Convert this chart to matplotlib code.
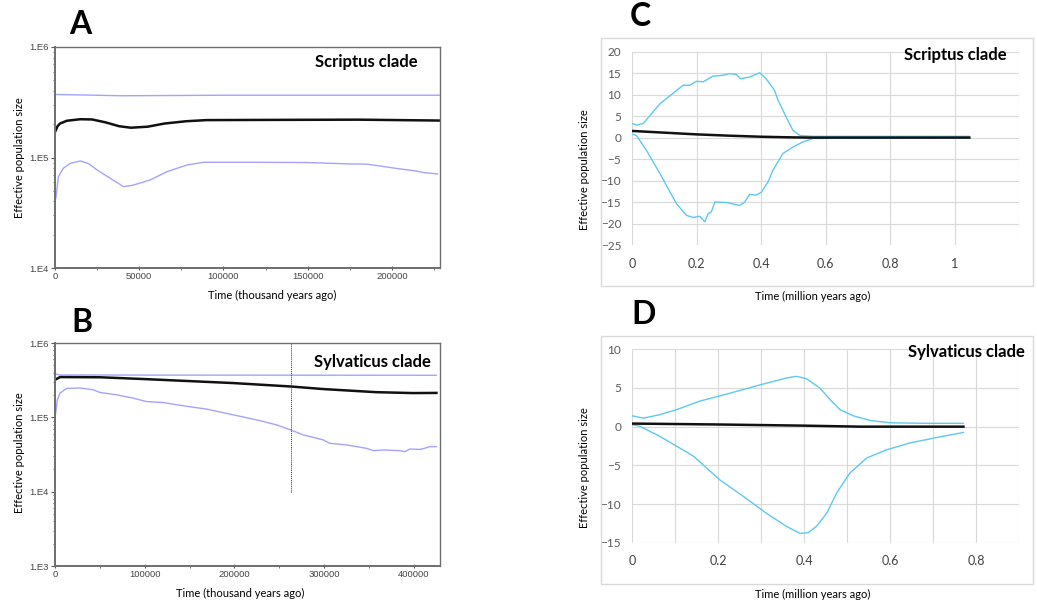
import numpy as np
import matplotlib
matplotlib.use("Agg")
import matplotlib.pyplot as plt
from matplotlib.patches import Rectangle
from matplotlib.ticker import FixedLocator, NullFormatter

# ---- panel A : Scriptus clade (BSP, log scale) ----
a_med_t = [0, 1500, 3000, 7000, 15000, 22000, 30000, 38000, 45000, 55000, 65000, 78000, 90000, 130000, 180000, 228000]
a_med_n = [170000, 192000, 203000, 215000, 222000, 221000, 208000, 192000, 186000, 190000, 203000, 213000, 218000, 219000, 220000, 216000]
a_hi_t = [0, 40000, 100000, 228000]
a_hi_n = [372000, 362000, 366000, 366000]
a_lo_t = [0, 600, 2000, 5000, 9000, 15000, 20000, 25000, 32000, 40700, 46000, 56500, 66500, 78400, 88300, 120000, 150000, 175600,
          185500, 195500, 205000, 213000, 219000, 227000]
a_lo_n = [40000, 44000, 67000, 80000, 88500, 93000, 88000, 77000, 66000, 54500, 56000, 62600, 74500, 85600, 90500, 90500, 90000,
          87400, 87000, 82600, 78700, 76000, 73000, 71000]

# ---- panel B : Sylvaticus clade ----
b_med_t = [0, 5600, 50000, 100000, 198700, 262600, 299000, 358000, 399000, 425000]
b_med_n = [320000, 348000, 346000, 327000, 289000, 260000, 240000, 218000, 212000, 213000]
b_hi_t = [0, 5000, 100000, 425000]
b_hi_n = [385000, 372000, 370000, 368000]
b_lo_t = [0, 2600, 5600, 13000, 27900, 42700, 50000, 68700, 87300, 102000, 120700, 143000, 169000, 198700, 228000, 247000,
          262600, 276700, 299000, 306000, 325000, 347000, 355000, 366000, 384000, 390000, 395500, 407000, 418000, 425000]
b_lo_n = [97000, 172000, 212000, 245000, 248000, 235000, 216000, 201000, 181000, 163000, 158000, 143000, 129000, 108000,
          90500, 79000, 67700, 58000, 49700, 44800, 42500, 38300, 35600, 36400, 35600, 34500, 37500, 37000, 40400, 40400]
b_split = 262600

# ---- panel C : Scriptus clade (EBSP) ----
c_med_t = [0, 0.1, 0.2, 0.3, 0.4, 0.5, 0.56, 1.045]
c_med_n = [1.55, 1.15, 0.75, 0.45, 0.2, 0.05, 0.0, 0.0]
c_hi_t = [0, 0.013, 0.034, 0.086, 0.158, 0.178, 0.199, 0.22, 0.25, 0.281, 0.302, 0.323, 0.335, 0.364, 0.395, 0.415, 0.441,
          0.452, 0.477, 0.498, 0.519, 0.56, 1.045]
c_hi_n = [3.3, 2.9, 3.3, 7.9, 12.2, 12.2, 13.1, 13.0, 14.3, 14.5, 14.9, 14.7, 13.7, 14.1, 15.1, 13.7, 11.0, 8.7, 4.8, 1.7,
          0.5, 0.3, 0.3]
c_lo_t = [0, 0.013, 0.044, 0.086, 0.137, 0.168, 0.189, 0.209, 0.225, 0.235, 0.245, 0.256, 0.292, 0.333, 0.348, 0.364, 0.385,
          0.4, 0.421, 0.436, 0.467, 0.498, 0.529, 0.56, 1.045]
c_lo_n = [0.8, 0.5, -3.0, -8.4, -15.4, -18.1, -18.6, -18.3, -19.6, -17.7, -17.3, -15.0, -15.1, -15.8, -15.0, -13.2, -13.4,
          -12.7, -10.3, -7.6, -3.7, -2.2, -1.0, -0.2, 0.1]

# ---- panel D : Sylvaticus clade (EBSP) ----
d_med_t = [0, 0.2, 0.4, 0.53, 0.77]
d_med_n = [0.4, 0.28, 0.13, 0.0, 0.0]
d_hi_t = [0, 0.026, 0.064, 0.103, 0.157, 0.219, 0.297, 0.359, 0.382, 0.405, 0.436, 0.46, 0.483, 0.514, 0.553, 0.6, 0.684, 0.77]
d_hi_n = [1.4, 1.1, 1.55, 2.2, 3.3, 4.2, 5.4, 6.3, 6.5, 6.2, 5.0, 3.5, 2.2, 1.4, 0.8, 0.5, 0.43, 0.43]
d_lo_t = [0, 0.018, 0.064, 0.142, 0.204, 0.258, 0.312, 0.359, 0.39, 0.409, 0.428, 0.452, 0.475, 0.506, 0.545, 0.591, 0.646,
          0.708, 0.77]
d_lo_n = [0.25, 0.05, -1.25, -3.8, -6.9, -9.0, -11.2, -12.9, -13.8, -13.7, -12.9, -11.2, -8.6, -6.0, -4.05, -3.0, -2.1,
          -1.4, -0.75]

W, H = 1037, 603
LAV = "#a3a3ff"
SKY = "#5cc8f2"
FONT = "Lato"


def px(x0, y0, x1, y1):
    # pixel box -> figure fraction rect
    return [x0 / W, 1 - y1 / H, (x1 - x0) / W, (y1 - y0) / H]


def bsp_axes(ax, xmax, xmajor, xminor, ymin):
    ax.set_yscale("log")
    ax.set_xlim(0, xmax)
    ax.set_ylim(ymin, 1e6)
    ax.xaxis.set_major_locator(FixedLocator(xmajor))
    ax.xaxis.set_minor_locator(FixedLocator(xminor))
    ax.set_xticklabels([str(v) for v in xmajor])
    decs = [10 ** k for k in range(int(np.log10(ymin)), 7)]
    ax.yaxis.set_major_locator(FixedLocator(decs))
    ax.set_yticklabels(["1.E%d" % int(np.log10(d)) for d in decs])
    ax.yaxis.set_minor_formatter(NullFormatter())
    for s in ax.spines.values():
        s.set_color("#6e6e6e")
        s.set_linewidth(1.0)
    ax.spines["left"].set_linewidth(1.4)
    ax.spines["bottom"].set_linewidth(1.4)
    ax.tick_params(which="major", length=3, width=0.8, color="#555555", labelsize=6.8, labelcolor="#444444", pad=1.5)
    ax.tick_params(which="minor", length=1.5, width=0.6, color="#555555")
    ax.tick_params(axis="x", direction="inout")
    for t in ax.get_xticklabels() + ax.get_yticklabels():
        t.set_family("Liberation Sans")


def ebsp_axes(ax, xmax, xgrid, xlabels, ymin, ymax):
    ax.set_xlim(0, xmax)
    ax.set_ylim(ymin, ymax)
    ax.set_xticks(xgrid)
    ax.set_xticklabels(xlabels)
    ax.set_yticks(np.arange(ymin, ymax + 1, 5))
    ax.grid(True, color="#d9d9d9", linewidth=0.8)
    ax.set_axisbelow(True)
    for s in ax.spines.values():
        s.set_visible(False)
    ax.tick_params(length=0)
    ax.tick_params(axis="y", labelsize=8.5, labelcolor="#595959", pad=8)
    ax.tick_params(axis="x", labelsize=9, labelcolor="#404040", pad=9)
    for t in ax.get_xticklabels() + ax.get_yticklabels():
        t.set_family(FONT)


fig = plt.figure(figsize=(W / 100, H / 100), dpi=100)

# A
axA = fig.add_axes(px(55, 47, 440, 268))
axA.plot(a_hi_t, a_hi_n, color=LAV, lw=1.0)
axA.plot(a_lo_t, a_lo_n, color=LAV, lw=1.0)
axA.plot(a_med_t, a_med_n, color="#111111", lw=1.8)
bsp_axes(axA, 228500, [0, 50000, 100000, 150000, 200000], [25000, 75000, 125000, 175000, 225000], 1e4)

# B
axB = fig.add_axes(px(55, 343, 440, 566))
axB.plot(b_hi_t, b_hi_n, color=LAV, lw=1.0)
axB.plot(b_lo_t, b_lo_n, color=LAV, lw=1.0)
axB.plot(b_med_t, b_med_n, color="#111111", lw=1.8)
axB.plot([b_split, b_split], [1e4, 1e6], color="#333333", lw=0.7, ls=(0, (1, 1)))
bsp_axes(axB, 429000, [0, 100000, 200000, 300000, 400000], [50000, 150000, 250000, 350000], 1e3)

# C
fig.patches.append(Rectangle((600.7 / W, 1 - 285.7 / H), 432 / W, 247.4 / H, transform=fig.transFigure,
                             fill=False, edgecolor="#d9d9d9", lw=1.0))
axC = fig.add_axes(px(632.3, 51.7, 1019.3, 245))
axC.plot(c_hi_t, c_hi_n, color=SKY, lw=1.0)
axC.plot(c_lo_t, c_lo_n, color=SKY, lw=1.0)
axC.plot(c_med_t, c_med_n, color="#111111", lw=1.8)
ebsp_axes(axC, 1.2, [0, 0.2, 0.4, 0.6, 0.8, 1.0, 1.2], ["0", "0.2", "0.4", "0.6", "0.8", "1", ""], -25, 20)

# D
fig.patches.append(Rectangle((600.7 / W, 1 - 583.7 / H), 432 / W, 247.7 / H, transform=fig.transFigure,
                             fill=False, edgecolor="#d9d9d9", lw=1.0))
axD = fig.add_axes(px(632.3, 349.3, 1019.3, 542.7))
axD.plot(d_hi_t, d_hi_n, color=SKY, lw=1.0)
axD.plot(d_lo_t, d_lo_n, color=SKY, lw=1.0)
axD.plot(d_med_t, d_med_n, color="#111111", lw=1.8)
ebsp_axes(axD, 0.9, np.round(np.arange(0, 0.91, 0.1), 1),
          ["0", "", "0.2", "", "0.4", "", "0.6", "", "0.8", ""], -15, 10)

# text
def ftext(x, y, s, **kw):
    fig.text(x / W, 1 - y / H, s, **kw)

for (x, y, s) in [(80, 25, "A"), (82, 323, "B"), (640, 17, "C"), (644, 315, "D")]:
    ftext(x, y, s, ha="center", va="center", fontsize=23, fontweight="bold", family=FONT)

for (x, y, s) in [(366, 62, "Scriptus clade"), (372, 362, "Sylvaticus clade"),
                  (955, 55, "Scriptus clade"), (966, 352, "Sylvaticus clade")]:
    ftext(x, y, s, ha="center", va="center", fontsize=12, fontweight="bold", family=FONT)

for (x, y) in [(20, 158), (20, 453), (584, 170), (584, 468)]:
    ftext(x, y, "Effective population size", ha="center", va="center", rotation=90, fontsize=8, family=FONT)

ftext(272, 295, "Time (thousand years ago)", ha="center", va="center", fontsize=8, family=FONT)
ftext(240, 593, "Time (thousand years ago)", ha="center", va="center", fontsize=8, family=FONT)
ftext(813, 296, "Time (million years ago)", ha="center", va="center", fontsize=8, family=FONT)
ftext(813, 594, "Time (million years ago)", ha="center", va="center", fontsize=8, family=FONT)

fig.savefig("out.png", dpi=100)
